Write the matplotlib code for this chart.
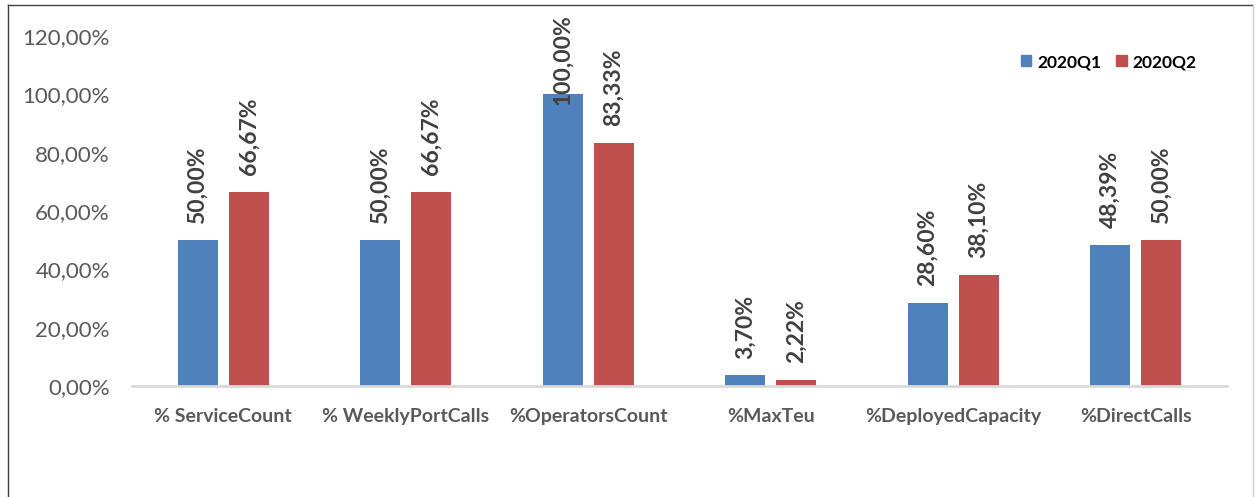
import matplotlib
matplotlib.use("Agg")
import matplotlib.pyplot as plt
from matplotlib.lines import Line2D
from matplotlib.patches import Patch
import numpy as np

categories = ["% ServiceCount", "% WeeklyPortCalls", "%OperatorsCount",
              "%MaxTeu", "%DeployedCapacity", "%DirectCalls"]
q1 = [50.00, 50.00, 100.00, 3.70, 28.60, 48.39]
q2 = [66.67, 66.67, 83.33, 2.22, 38.10, 50.00]
series_names = ["2020Q1", "2020Q2"]
yticks = [0, 20, 40, 60, 80, 100, 120]

BLUE = "#4F81BD"
RED = "#C0504D"
GRAY = "#595959"
LABEL = "#404040"
FONT = "Lato"

W, H = 1257, 497
fig = plt.figure(figsize=(W / 100, H / 100), dpi=100)
ax = fig.add_axes([132 / W, 1 - 386 / H, (1227 - 132) / W, (386 - 36) / H])

x = np.arange(len(categories))
bw = 0.22
off = 0.14
ax.bar(x - off, q1, bw, color=BLUE, zorder=2)
ax.bar(x + off, q2, bw, color=RED, zorder=2)

ax.set_xlim(-0.5, len(categories) - 0.5)
ax.set_ylim(0, 120)
ax.set_yticks(yticks)
ax.set_yticklabels([f"{v:.2f}".replace(".", ",") + "%" for v in yticks],
                   fontsize=16, color=GRAY, family=FONT)
ax.tick_params(axis="y", length=0, pad=16)
ax.set_xticks(x)
ax.set_xticklabels(categories, fontsize=14, color=GRAY, family=FONT, fontweight="bold")
ax.tick_params(axis="x", length=0, pad=16)
for s in ["top", "right", "left"]:
    ax.spines[s].set_visible(False)
ax.spines["bottom"].set_color("#D9D9D9")
ax.spines["bottom"].set_linewidth(2)

def fmt(v):
    return f"{v:.2f}".replace(".", ",") + "%"

for xs, vals in ((x - off, q1), (x + off, q2)):
    for xi, v in zip(xs, vals):
        if v > 95:
            ax.annotate(fmt(v), xy=(xi, 0), xycoords=("data", "figure pixels"),
                        xytext=(0, H - 14), textcoords=("offset points", "figure pixels"),
                        rotation=90, ha="center", va="top", fontsize=16.5,
                        fontweight="bold", color=LABEL, family=FONT,
                        annotation_clip=False)
        else:
            ax.annotate(fmt(v), xy=(xi, v), xytext=(0, 12), textcoords="offset points",
                        rotation=90, ha="center", va="bottom", fontsize=16.5,
                        fontweight="bold", color=LABEL, family=FONT,
                        annotation_clip=False)

handles = [Patch(color=BLUE), Patch(color=RED)]
fig.legend(handles, series_names, loc="center left",
           bbox_to_anchor=(1021 / W, 1 - 62 / H), ncol=2, frameon=False,
           prop={"family": FONT, "weight": "bold", "size": 12.5},
           handlelength=0.6, handleheight=0.6, handletextpad=0.35,
           columnspacing=0.85, borderaxespad=0, borderpad=0)

# outer frame
fig.add_artist(Line2D([8 / W, 8 / W], [0, 1 - 5 / H], transform=fig.transFigure,
                      color="#404040", lw=1))
fig.add_artist(Line2D([8 / W, 1253 / W], [1 - 5 / H, 1 - 5 / H], transform=fig.transFigure,
                      color="#404040", lw=1))
fig.add_artist(Line2D([1253 / W, 1253 / W], [0, 1 - 5 / H], transform=fig.transFigure,
                      color="#D0D0D0", lw=1))

fig.savefig("out.png", dpi=100)
